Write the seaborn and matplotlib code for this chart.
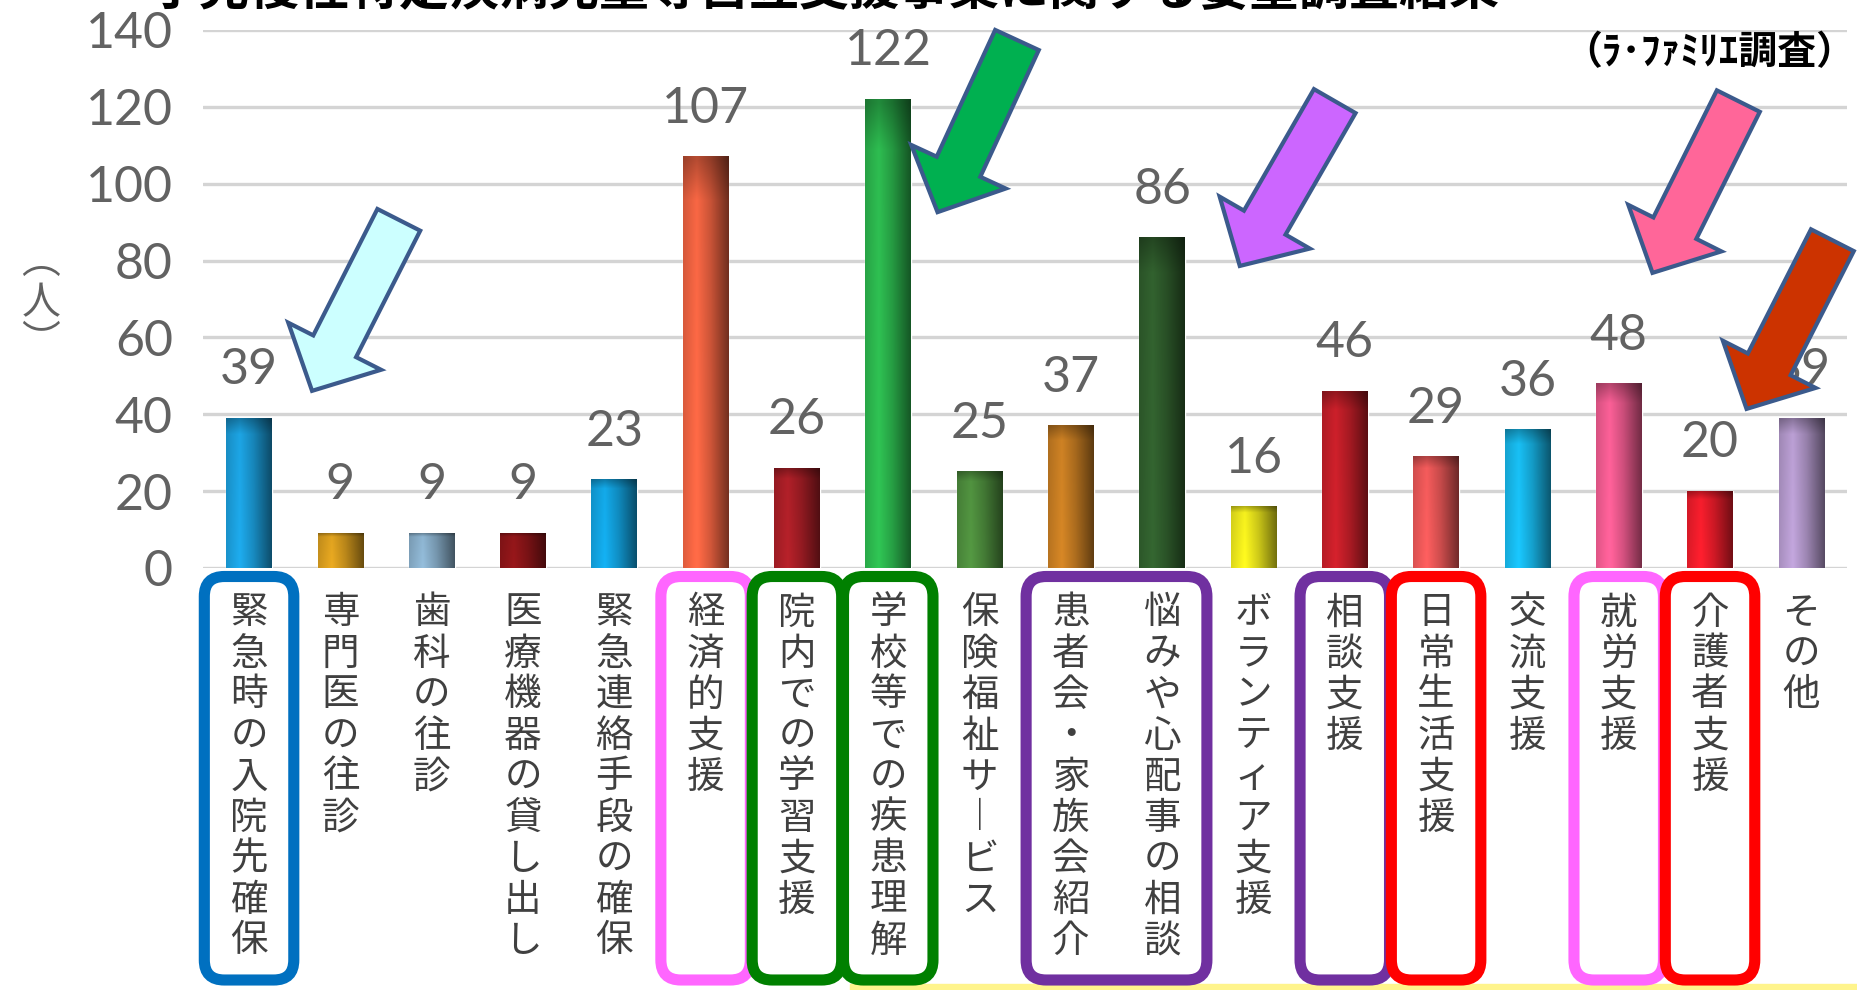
import numpy as np
import matplotlib
matplotlib.use("Agg")
import matplotlib.pyplot as plt
import matplotlib.colors as mcolors
import matplotlib.transforms as mtransforms
import seaborn as sns
from matplotlib.patches import FancyBboxPatch, Polygon, Rectangle

# ---- data -------------------------------------------------------------
categories = [
    "緊急時の入院先確保", "専門医の往診", "歯科の往診", "医療機器の貸し出し",
    "緊急連絡手段の確保", "経済的支援", "院内での学習支援", "学校等での疾患理解",
    "保険福祉サービス", "患者会・家族会紹介", "悩みや心配事の相談", "ボランティア支援",
    "相談支援", "日常生活支援", "交流支援", "就労支援", "介護者支援", "その他",
]
values = [39, 9, 9, 9, 23, 107, 26, 122, 25, 37, 86, 16, 46, 29, 36, 48, 20, 39]
bar_colors = [
    "#1b9bd7", "#d49a1e", "#86abc6", "#8a1518", "#12a0dc", "#ea6140",
    "#a61e26", "#2bb24c", "#4c8a3c", "#c27a22", "#2f5c2c", "#e8e31c",
    "#c01e28", "#e65656", "#17b4e6", "#ec5a8e", "#e81c2a", "#b096c8",
]
yticks = [0, 20, 40, 60, 80, 100, 120, 140]

title = "小児慢性特定疾病児童等自立支援事業に関する要望調査結果"
source = "（ﾗ･ﾌｧﾐﾘｴ調査）"

# highlight frames round the labels: first index, last index, colour
frames = [
    (0, 0, "#0070c0"), (5, 5, "#ff66ff"), (6, 6, "#008000"), (7, 7, "#008000"),
    (9, 10, "#7030a0"), (12, 12, "#7030a0"), (13, 13, "#ff0000"),
    (15, 15, "#ff66ff"), (16, 16, "#ff0000"),
]

# block arrows: tail (x, y), tip (x, y), fill
arrows = [
    ((1.64, 90.6), (0.69, 46.1), "#ccffff"),
    ((8.41, 137.4), (7.54, 92.6), "#00b050"),
    ((11.89, 121.5), (10.85, 78.6), "#cc66ff"),
    ((16.31, 121.5), (15.37, 76.8), "#ff6699"),
    ((17.34, 85.3), (16.40, 41.4), "#cc3300"),
]

W, H, DPI = 1857, 990, 100
GREY = "#626262"
NUM_FONT = ["Lato", "DejaVu Sans"]
JP_FONT = ["Noto Sans CJK JP", "DejaVu Sans"]


def fy(py):
    """pixel row (from top) -> figure fraction"""
    return 1 - py / H


sns.set_style("white")
plt.rcParams["font.family"] = JP_FONT

fig = plt.figure(figsize=(W / DPI, H / DPI), dpi=DPI)
ax = fig.add_axes([203.4 / W, fy(568), (1847 - 203.4) / W, (568 - 30) / H])

sns.barplot(x=categories, y=values, hue=categories, palette=bar_colors,
            legend=False, width=0.5, saturation=1, ax=ax, zorder=3)

ax.set_xlim(-0.5, len(categories) - 0.5)
ax.set_ylim(0, 140)
ax.set_yticks(yticks)
ax.set_yticklabels([str(t) for t in yticks], fontsize=36, color=GREY,
                   family=NUM_FONT)
ax.tick_params(axis="y", length=0, pad=22)
ax.set_xticks([])
ax.set_xlabel("")
ax.set_ylabel("")
ax.grid(axis="y", color="#d4d4d4", lw=2.4)
ax.set_axisbelow(True)
sns.despine(ax=ax, left=True, bottom=True)

# cylinder-like shading on every bar
t = np.linspace(0, 1, 80)
shade = np.interp(t, [0, 0.3, 0.6, 1], [0.95, 1.12, 0.9, 0.5])
vert = np.interp(np.linspace(0, 1, 60), [0, 0.9, 1], [1.0, 0.95, 0.7])
for p in list(ax.patches):
    h = p.get_height()
    if not np.isfinite(h) or h <= 0:
        continue
    base = np.array(mcolors.to_rgb(p.get_facecolor()))
    img = np.clip(base[None, None, :] * shade[None, :, None] * vert[:, None, None], 0, 1)
    ax.imshow(img, extent=[p.get_x(), p.get_x() + p.get_width(), 0, h],
              origin="lower", aspect="auto", zorder=3.5, interpolation="bilinear")
ax.set_xlim(-0.5, len(categories) - 0.5)
ax.set_ylim(0, 140)

for c in ax.containers:
    ax.bar_label(c, padding=18, fontsize=36, color=GREY, family=NUM_FONT,
                 zorder=5)

# vertical category labels
blend = mtransforms.blended_transform_factory(ax.transData, fig.transFigure)
for i, lab in enumerate(categories):
    for k, ch in enumerate(lab.replace("ー", "︱")):
        ax.text(i, fy(613 + 41 * k), ch, transform=blend, ha="center",
                va="center", fontsize=27, color="#404040", clip_on=False)

# y axis unit in vertical form
for ch, py in zip(["︵", "人", "︶"], [262, 303, 342]):
    fig.text(41 / W, fy(py), ch, ha="center", va="center", fontsize=28,
             color=GREY)

# highlight frames, drawn in pixels so the corners stay round
inch = fig.dpi_scale_trans
fig.add_artist(Rectangle((850 / DPI, 0), (W - 850) / DPI, 6 / DPI,
                         transform=inch, color="#fff48c", zorder=1))
for a, b, col in frames:
    x0 = ax.transData.transform((a - 0.49, 0))[0]
    x1 = ax.transData.transform((b + 0.49, 0))[0]
    y0, y1 = H - 980, H - 576.5
    fig.add_artist(FancyBboxPatch(
        (x0 / DPI, y0 / DPI), (x1 - x0) / DPI, (y1 - y0) / DPI,
        boxstyle="round,pad=0,rounding_size=0.2", transform=inch,
        fc="none", ec=col, lw=8, zorder=2))


def block_arrow(tail, tip, shaft=48, head=104, head_len=50):
    p0 = np.array(ax.transData.transform(tail))
    p1 = np.array(ax.transData.transform(tip))
    u = (p1 - p0) / np.linalg.norm(p1 - p0)
    n = np.array([-u[1], u[0]])
    b = p1 - u * head_len
    pts = [p0 + n * shaft / 2, b + n * shaft / 2, b + n * head / 2, p1,
           b - n * head / 2, b - n * shaft / 2, p0 - n * shaft / 2]
    return np.array(pts) / DPI


for tail, tip, col in arrows:
    fig.add_artist(Polygon(block_arrow(tail, tip), closed=True, transform=inch,
                           fc=col, ec="#3b5a8c", lw=3, joinstyle="miter",
                           zorder=6))

# title (only its lower edge shows in the source) and survey note
fig.text(825 / W, fy(-10), title, ha="center", va="center", fontsize=36,
         fontweight="bold", color="black")
fig.text(1 - 2 / W, fy(53), source, ha="right", va="center", fontsize=28,
         fontweight="bold", color="black")

fig.savefig("out.png", dpi=DPI, facecolor="white")
